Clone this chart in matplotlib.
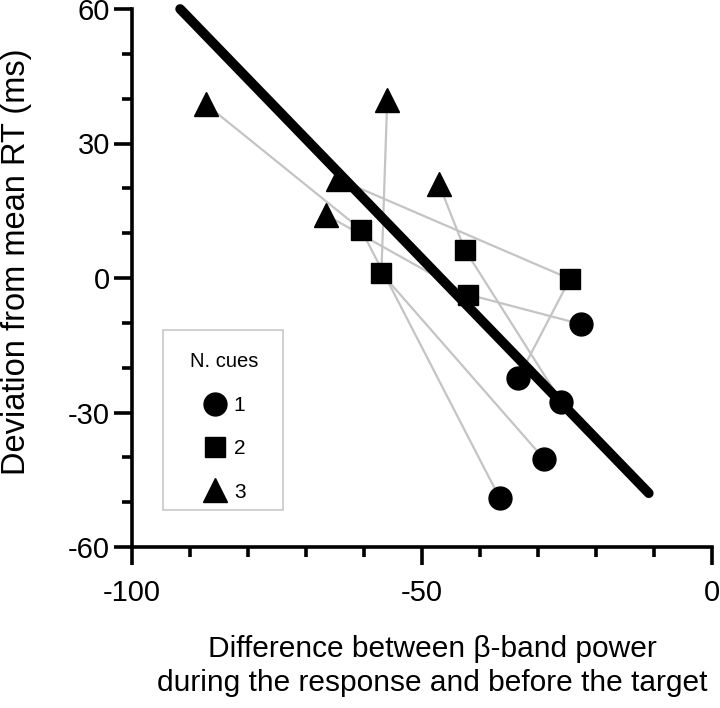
import numpy as np
import matplotlib.pyplot as plt
from matplotlib.lines import Line2D
from matplotlib.patches import Rectangle
from matplotlib.ticker import MultipleLocator

plt.rcParams['font.family'] = ['Liberation Sans', 'DejaVu Sans']
plt.rcParams['axes.unicode_minus'] = False

# --- data: one entry per subject, ordered 3 cues -> 2 cues -> 1 cue ---
x_3cues = [-87.3, -56.0, -64.5, -47.1, -66.6]
y_3cues = [38.8, 39.6, 22.1, 21.0, 14.1]
x_2cues = [-60.5, -57.0, -24.5, -42.6, -42.0]
y_2cues = [10.8, 1.1, -0.2, 6.3, -3.7]
x_1cue = [-36.6, -29.0, -33.4, -26.0, -22.6]
y_1cue = [-49.1, -40.3, -22.3, -27.6, -10.3]

# regression line end points
fit_x = [-91.7, -10.9]
fit_y = [60.0, -48.0]

legend_labels = ['1', '2', '3']

W, H = 720, 708
fig = plt.figure(figsize=(W / 100, H / 100), dpi=100)
ax = fig.add_axes([132 / W, 1 - 547 / H, 580 / W, 538 / H])

# gray lines linking each subject's conditions
for i in range(len(x_3cues)):
    ax.plot([x_3cues[i], x_2cues[i], x_1cue[i]],
            [y_3cues[i], y_2cues[i], y_1cue[i]],
            color='#c4c4c4', lw=1.6, zorder=1, clip_on=False)

ax.plot(fit_x, fit_y, color='black', lw=7, solid_capstyle='round', zorder=2,
        clip_on=False)

circ = dict(marker='o', color='black', ms=16.5, ls='none')
sq = dict(marker='s', color='black', ms=14, ls='none')
tri = dict(marker='^', color='black', ms=17, ls='none')
ax.plot(x_1cue, y_1cue, zorder=3, clip_on=False, **circ)
ax.plot(x_2cues, y_2cues, zorder=3, clip_on=False, **sq)
ax.plot(x_3cues, y_3cues, zorder=3, clip_on=False, **tri)

ax.set_xlim(-100, 0)
ax.set_ylim(-60, 60)
ax.xaxis.set_major_locator(MultipleLocator(50))
ax.xaxis.set_minor_locator(MultipleLocator(10))
ax.yaxis.set_major_locator(MultipleLocator(30))
ax.yaxis.set_minor_locator(MultipleLocator(10))

for side in ['top', 'right']:
    ax.spines[side].set_visible(False)
for side in ['left', 'bottom']:
    ax.spines[side].set_linewidth(2.6)
    ax.spines[side].set_capstyle('projecting')
ax.tick_params(which='major', length=13, width=2.6, labelsize=21)
ax.tick_params(which='minor', length=7.5, width=2.6)
ax.tick_params(axis='x', which='major', pad=10)
ax.tick_params(axis='y', which='major', pad=3)

fig.text(17 / W, 1 - 262 / H, 'Deviation from mean RT (ms)', rotation=90,
         ha='center', va='center', fontsize=23.5)
fig.text(432 / W, 1 - 666 / H,
         'Difference between β-band power\nduring the response and before the target',
         ha='center', va='center', fontsize=21.5, linespacing=1.3)

# legend: frame drawn as a plain box, entries centred inside it
fig.patches.append(Rectangle((163 / W, 1 - 510 / H), 120 / W, 180 / H,
                             transform=fig.transFigure, fill=False,
                             edgecolor='#c8c8c8', lw=1.2))
handles = [Line2D([], [], **circ), Line2D([], [], **sq), Line2D([], [], **tri)]
leg = ax.legend(handles, legend_labels, title='N. cues', loc='center',
                bbox_to_anchor=(224 / W, 1 - 427 / H),
                bbox_transform=fig.transFigure, fontsize=15, title_fontsize=14.5,
                frameon=False, borderpad=0, labelspacing=1.17,
                handletextpad=0.3, handlelength=1.2)

fig.savefig('out.png', dpi=100)
